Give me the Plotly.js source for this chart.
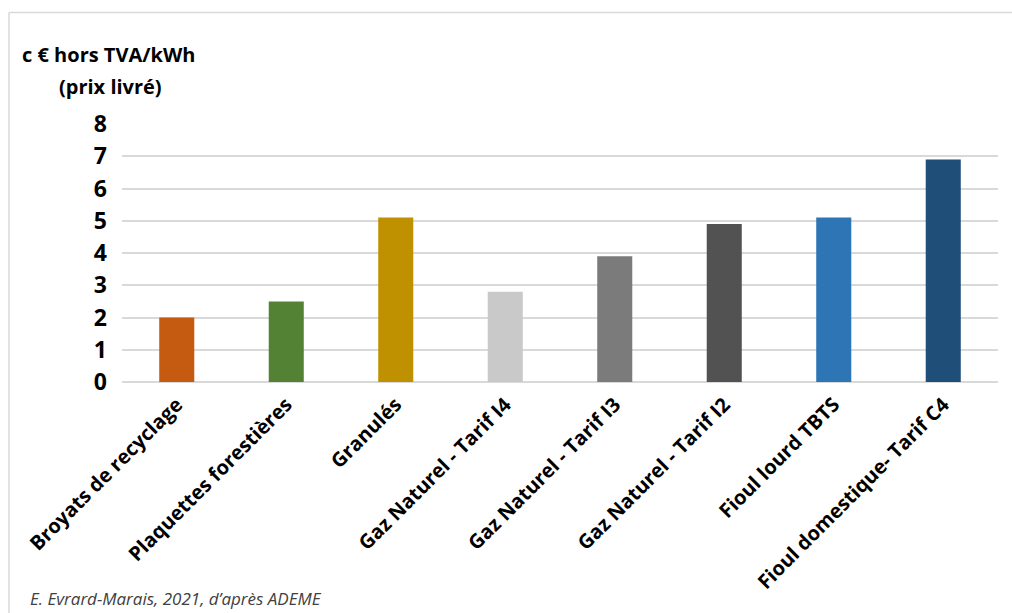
<!DOCTYPE html>
<html>
<head>
<meta charset="utf-8">
<script src="https://cdn.plot.ly/plotly-3.0.1.min.js"></script>
<style>
html,body{margin:0;padding:0;background:#fff;}
#chart{width:1012px;height:613px;}
</style>
</head>
<body>
<div id="chart"></div>
<script>
const categories = [
  "Broyats de recyclage",
  "Plaquettes forestières",
  "Granulés",
  "Gaz Naturel - Tarif I4",
  "Gaz Naturel - Tarif I3",
  "Gaz Naturel - Tarif I2",
  "Fioul lourd TBTS",
  "Fioul domestique- Tarif C4"
];
const prices = [2.0, 2.5, 5.1, 2.8, 3.9, 4.9, 5.1, 6.9];
const barColors = ["#C55A11", "#548235", "#BF9000", "#C9C9C9", "#7B7B7B", "#525252", "#2E75B6", "#1F4E79"];
const yTicks = [0, 1, 2, 3, 4, 5, 6, 7, 8];
const unitTitle = "c € hors TVA/kWh";
const unitSub = "(prix livré)";
const sourceText = "E. Evrard-Marais, 2021, d’après ADEME";

const W = 1012, H = 613;
const M = {l: 122, r: 14, t: 124, b: 231};
const pw = W - M.l - M.r, ph = H - M.t - M.b;
const px = x => (x - M.l) / pw;
const py = y => (H - M.b - y) / ph;

const FONT = "'Open Sans', sans-serif";

const trace = {
  type: "bar",
  x: categories,
  y: prices,
  marker: {color: barColors},
  hoverinfo: "x+y"
};

const layout = {
  width: W, height: H,
  margin: M,
  paper_bgcolor: "#fff",
  plot_bgcolor: "#fff",
  showlegend: false,
  bargap: 0.68,
  font: {family: FONT, color: "#000"},
  xaxis: {
    type: "category",
    tickangle: -45,
    tickfont: {family: FONT, size: 20, color: "#000", weight: "bold"},
    showgrid: false,
    showline: false,
    ticks: "",
    ticklabelstandoff: 6,
    automargin: false
  },
  yaxis: {
    range: [0, 8],
    tickvals: yTicks,
    ticktext: yTicks.map(String),
    tickfont: {family: FONT, size: 23, color: "#000", weight: "bold"},
    showgrid: true,
    gridcolor: "#D9D9D9",
    gridwidth: 1.5,
    zeroline: true,
    zerolinecolor: "#D9D9D9",
    zerolinewidth: 1.5,
    showline: false,
    ticks: "",
    ticklabelstandoff: 14,
    automargin: false,
    fixedrange: true
  },
  annotations: [
    {xref: "paper", yref: "paper", x: px(20), y: py(55), xanchor: "left", yanchor: "middle",
     text: "<b>" + unitTitle + "</b>", showarrow: false, font: {family: FONT, size: 20, color: "#000"}},
    {xref: "paper", yref: "paper", x: px(110), y: py(86), xanchor: "center", yanchor: "middle",
     text: "<b>" + unitSub + "</b>", showarrow: false, font: {family: FONT, size: 20, color: "#000"}},
    {xref: "paper", yref: "paper", x: px(28), y: py(598), xanchor: "left", yanchor: "middle",
     text: "<i>" + sourceText + "</i>", showarrow: false, font: {family: FONT, size: 17, color: "#404040"}}
  ],
  shapes: [
    {type: "line", xref: "paper", yref: "paper", x0: px(9), x1: px(1020), y0: py(12.5), y1: py(12.5),
     line: {color: "#D9D9D9", width: 1.5}},
    {type: "line", xref: "paper", yref: "paper", x0: px(9), x1: px(9), y0: py(12.5), y1: py(620),
     line: {color: "#D9D9D9", width: 1.5}}
  ]
};

Plotly.newPlot("chart", [trace], layout, {displayModeBar: false});
</script>
</body>
</html>
